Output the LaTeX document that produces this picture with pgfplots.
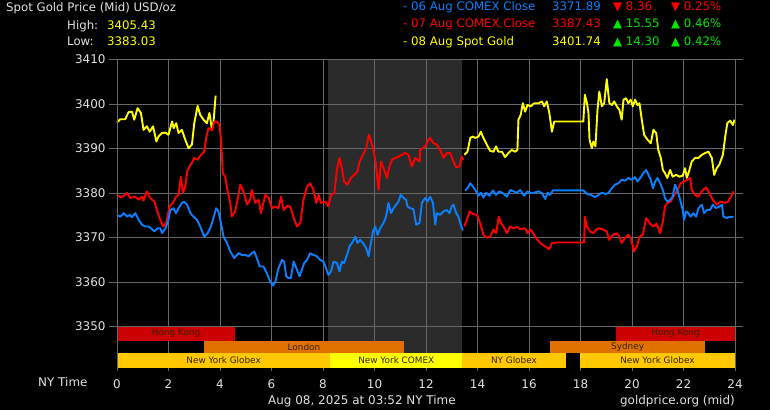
\documentclass[border=0pt]{standalone}
\usepackage{fontspec}
\setmainfont{DejaVu Sans}
\usepackage{pgfplots}
\pgfplotsset{compat=1.18}
\definecolor{gridgray}{RGB}{102,102,102}
\definecolor{comexshade}{RGB}{43,43,43}
\definecolor{txtgray}{RGB}{225,225,225}
\definecolor{gyellow}{RGB}{255,255,0}
\definecolor{gred}{RGB}{255,0,0}
\definecolor{gblue}{RGB}{10,128,255}
\definecolor{ggreen}{RGB}{0,230,0}
\definecolor{hkred}{RGB}{204,0,0}
\definecolor{lonorange}{RGB}{224,112,0}
\definecolor{globex}{RGB}{255,200,0}
\definecolor{comex}{RGB}{255,255,0}
\definecolor{bartxt}{RGB}{50,35,0}
\newcommand\hdr{\fontsize{11.8}{14}\selectfont}
\newcommand\tck{\fontsize{12}{14}\selectfont}
\newcommand\brf{\fontsize{8.9}{10}\selectfont}
\begin{document}
\begin{tikzpicture}
\begin{scope}[x=1bp,y=1bp]
\fill[black] (0,0) rectangle (770,410);
% header left
\node[anchor=base west, inner sep=0, text=txtgray, font=\hdr] at (6,398) {Spot Gold Price (Mid) USD/oz};
\node[anchor=base west, inner sep=0, text=txtgray, font=\hdr] at (67,380.7) {High:};
\node[anchor=base west, inner sep=0, text=gyellow, font=\hdr] at (107,380.7) {3405.43};
\node[anchor=base west, inner sep=0, text=txtgray, font=\hdr] at (67,364.3) {Low:};
\node[anchor=base west, inner sep=0, text=gyellow, font=\hdr] at (107,364.3) {3383.03};
% header right
\node[anchor=base west, inner sep=0, text=gblue, font=\hdr] at (403,399) {- 06 Aug COMEX Close};
\node[anchor=base east, inner sep=0, text=gblue, font=\hdr] at (601,399) {3371.89};
\node[anchor=base west, inner sep=0, text=gred, font=\hdr] at (613,399) {▼ 8.36};
\node[anchor=base west, inner sep=0, text=gred, font=\hdr] at (671,399) {▼ 0.25\%};
\node[anchor=base west, inner sep=0, text=gred, font=\hdr] at (403,382.3) {- 07 Aug COMEX Close};
\node[anchor=base east, inner sep=0, text=gred, font=\hdr] at (601,382.3) {3387.43};
\node[anchor=base west, inner sep=0, text=ggreen, font=\hdr] at (613,382.3) {▲ 15.55};
\node[anchor=base west, inner sep=0, text=ggreen, font=\hdr] at (671,382.3) {▲ 0.46\%};
\node[anchor=base west, inner sep=0, text=gyellow, font=\hdr] at (403,365) {- 08 Aug Spot Gold};
\node[anchor=base east, inner sep=0, text=gyellow, font=\hdr] at (601,365) {3401.74};
\node[anchor=base west, inner sep=0, text=ggreen, font=\hdr] at (613,365) {▲ 14.30};
\node[anchor=base west, inner sep=0, text=ggreen, font=\hdr] at (671,365) {▲ 0.42\%};
% footer
\node[anchor=base west, inner sep=0, text=txtgray, font=\tck] at (38,23.7) {NY Time};
\node[anchor=base west, inner sep=0, text=txtgray, font=\tck] at (268,6) {Aug 08, 2025 at 03:52 NY Time};
\node[anchor=base east, inner sep=0, text=txtgray, font=\tck] at (735,6) {goldprice.org (mid)};
\end{scope}
\begin{axis}[
  at={(117bp,42bp)}, anchor=south west, scale only axis,
  width=618bp, height=308.4bp,
  xmin=0, xmax=24, ymin=3340.7, ymax=3410,
  axis line style={draw=none},
  xtick={0,2,...,24}, ytick={3350,3360,...,3410},
  tick align=outside, major tick length=8bp,
  xtick style={draw=none}, ytick style={draw=gridgray, line width=0.8bp},
  ticklabel style={font=\tck, text=txtgray},
  /pgf/number format/assume math mode=true,
  /pgf/number format/1000 sep={},
  clip=false,
]
% shaded COMEX region
\fill[fill=comexshade] (axis cs:8.2,3340.7) rectangle (axis cs:13.4,3410);
% grid
\pgfplotsinvokeforeach{0,2,4,6,8,10,12,14,16,18,20,22,24}{
  \draw[gridgray, line width=0.8bp] (axis cs:#1,3340.0) -- (axis cs:#1,3410);
}
\pgfplotsinvokeforeach{3350,3360,3370,3380,3390,3400,3410}{
  \draw[gridgray, line width=0.8bp] (axis cs:0,#1) -- (axis cs:24,#1);
}
% yellow 08 Aug spot
\addplot[gyellow, line width=1.9bp, line join=round] coordinates {
(0.00,3395.9)(0.13,3396.6)(0.32,3396.6)(0.45,3398.2)(0.58,3398.3)(0.67,3396.5)(0.80,3399.1)(0.93,3398.0)(1.03,3394.2)(1.16,3395.0)(1.27,3393.8)(1.40,3395.0)(1.53,3391.6)(1.61,3392.7)(1.75,3393.5)(1.88,3393.6)(2.00,3393.1)(2.14,3396.1)(2.20,3394.6)(2.30,3395.7)(2.39,3393.5)(2.52,3394.2)(2.65,3392.0)(2.78,3390.1)(2.91,3390.9)(3.00,3395.7)(3.13,3399.6)(3.23,3397.6)(3.36,3396.5)(3.49,3395.7)(3.59,3398.0)(3.69,3394.2)(3.75,3396.1)(3.83,3401.9)
};
\addplot[gyellow, line width=1.9bp, line join=round] coordinates {
(13.49,3388.6)(13.61,3389.3)(13.72,3392.4)(13.82,3392.7)(13.91,3392.4)(14.04,3392.7)(14.13,3393.8)(14.23,3392.4)(14.36,3390.9)(14.49,3389.5)(14.62,3389.3)(14.72,3390.5)(14.81,3389.3)(14.95,3389.3)(15.07,3388.1)(15.20,3389.0)(15.33,3389.7)(15.46,3389.3)(15.55,3389.7)(15.59,3396.5)(15.68,3397.6)(15.76,3400.2)(15.85,3398.3)(15.94,3399.8)(16.07,3399.5)(16.20,3400.2)(16.37,3400.2)(16.50,3400.6)(16.59,3399.5)(16.69,3400.6)(16.79,3398.0)(16.89,3393.8)(16.98,3396.1)(18.11,3396.1)(18.17,3402.1)(18.25,3400.2)(18.31,3398.0)(18.35,3392.0)(18.44,3390.1)(18.50,3391.6)(18.58,3390.5)(18.66,3398.7)(18.73,3402.8)(18.83,3399.5)(18.92,3400.2)(19.02,3405.6)(19.12,3400.2)(19.22,3399.8)(19.31,3400.6)(19.41,3399.5)(19.51,3398.7)(19.60,3396.5)(19.67,3401.0)(19.77,3401.3)(19.86,3400.2)(19.95,3401.0)(20.03,3399.5)(20.12,3401.0)(20.21,3399.8)(20.29,3400.2)(20.38,3396.5)(20.47,3393.1)(20.60,3392.0)(20.73,3391.2)(20.83,3394.2)(20.94,3393.5)(21.02,3389.7)(21.12,3387.9)(21.20,3385.2)(21.28,3384.5)(21.37,3383.4)(21.48,3385.2)(21.58,3383.7)(21.71,3384.1)(21.84,3383.7)(21.97,3383.9)(22.06,3385.6)(22.13,3383.4)(22.23,3385.2)(22.32,3387.1)(22.45,3387.9)(22.58,3387.9)(22.71,3388.6)(22.84,3389.0)(22.97,3389.3)(23.10,3387.9)(23.19,3384.1)(23.29,3385.6)(23.39,3386.4)(23.53,3388.6)(23.62,3392.7)(23.70,3395.7)(23.81,3396.3)(23.92,3395.3)(23.98,3396.5)
};
% red 07 Aug COMEX
\addplot[gred, line width=1.9bp, line join=round] coordinates {
(0.00,3379.6)(0.13,3379.1)(0.26,3379.3)(0.39,3380.1)(0.52,3378.9)(0.71,3379.2)(0.84,3378.5)(0.97,3379.2)(1.03,3378.3)(1.16,3380.4)(1.29,3378.9)(1.45,3378.1)(1.55,3376.2)(1.68,3374.0)(1.79,3372.5)(1.91,3373.3)(2.04,3377.0)(2.17,3377.8)(2.30,3379.2)(2.39,3379.6)(2.48,3383.7)(2.56,3380.0)(2.65,3381.5)(2.74,3385.2)(2.87,3386.4)(3.00,3387.9)(3.13,3387.5)(3.26,3388.6)(3.39,3389.3)(3.47,3392.7)(3.56,3394.6)(3.69,3394.2)(3.78,3396.1)(3.88,3396.1)(3.98,3395.3)(4.05,3391.2)(4.11,3384.5)(4.20,3383.7)(4.29,3380.7)(4.40,3377.8)(4.46,3374.7)(4.59,3375.9)(4.68,3378.5)(4.79,3381.9)(4.91,3380.4)(5.05,3377.4)(5.17,3378.5)(5.24,3380.7)(5.37,3377.8)(5.50,3378.5)(5.59,3375.5)(5.76,3379.6)(5.89,3378.9)(6.02,3376.6)(6.15,3377.0)(6.27,3376.6)(6.37,3379.2)(6.47,3376.2)(6.60,3377.1)(6.73,3377.0)(6.86,3374.4)(6.99,3372.5)(7.12,3373.3)(7.24,3378.5)(7.38,3381.5)(7.50,3382.2)(7.63,3380.7)(7.74,3377.8)(7.83,3379.6)(7.92,3377.8)(8.09,3378.1)(8.21,3377.0)(8.31,3379.6)(8.44,3380.0)(8.54,3385.2)(8.64,3387.9)(8.73,3385.6)(8.82,3382.6)(8.95,3381.9)(9.08,3383.4)(9.21,3384.1)(9.34,3384.9)(9.42,3387.1)(9.55,3388.6)(9.68,3390.1)(9.78,3393.1)(9.87,3391.6)(9.96,3389.7)(10.05,3386.7)(10.16,3380.7)(10.25,3387.1)(10.38,3385.2)(10.48,3383.4)(10.58,3386.0)(10.68,3387.5)(10.80,3387.9)(10.93,3388.2)(11.06,3388.6)(11.19,3389.0)(11.32,3388.6)(11.45,3386.0)(11.58,3387.9)(11.75,3387.1)(11.77,3389.7)(11.97,3390.5)(12.10,3392.0)(12.16,3392.4)(12.29,3391.2)(12.42,3390.9)(12.55,3389.7)(12.68,3387.9)(12.81,3389.0)(12.94,3389.0)(13.04,3387.5)(13.17,3385.8)(13.30,3386.0)(13.39,3388.2)(13.45,3387.5)
};
\addplot[gred, line width=1.9bp, line join=round] coordinates {
(13.49,3372.5)(13.59,3374.0)(13.69,3375.9)(13.82,3375.3)(13.98,3375.1)(14.10,3373.3)(14.23,3370.6)(14.36,3370.0)(14.49,3370.2)(14.62,3371.8)(14.72,3371.0)(14.83,3374.7)(14.91,3373.3)(15.01,3372.5)(15.14,3371.0)(15.27,3372.5)(15.40,3372.1)(15.53,3372.4)(15.66,3371.9)(15.85,3372.1)(15.94,3371.0)(16.07,3371.8)(16.24,3370.2)(16.43,3368.8)(16.63,3368.0)(16.79,3367.4)(16.89,3368.8)(17.08,3368.9)(18.14,3368.9)(18.17,3374.7)(18.25,3372.5)(18.37,3371.4)(18.50,3371.0)(18.61,3371.8)(18.73,3372.1)(18.87,3371.8)(19.02,3371.4)(19.12,3369.5)(19.25,3370.6)(19.41,3371.0)(19.51,3370.2)(19.60,3368.8)(19.73,3369.9)(19.86,3370.6)(19.95,3369.9)(20.08,3366.9)(20.19,3368.0)(20.29,3370.2)(20.42,3370.6)(20.55,3374.4)(20.68,3373.3)(20.81,3372.5)(20.96,3373.1)(21.09,3371.0)(21.20,3373.6)(21.28,3377.0)(21.37,3377.8)(21.51,3378.1)(21.64,3379.6)(21.76,3380.7)(21.89,3382.2)(22.02,3382.6)(22.15,3383.0)(22.26,3383.4)(22.32,3380.7)(22.45,3379.6)(22.58,3379.2)(22.71,3380.4)(22.88,3381.3)(23.00,3380.0)(23.14,3378.5)(23.29,3377.4)(23.45,3378.1)(23.61,3377.8)(23.74,3378.1)(23.84,3379.2)(23.94,3380.4)
};
% blue 06 Aug COMEX
\addplot[gblue, line width=1.9bp, line join=round] coordinates {
(0.00,3375.1)(0.13,3374.7)(0.26,3375.5)(0.39,3374.7)(0.49,3375.1)(0.58,3374.6)(0.71,3375.5)(0.84,3374.0)(0.97,3372.9)(1.10,3372.5)(1.23,3372.5)(1.36,3371.9)(1.45,3371.4)(1.58,3372.1)(1.68,3372.1)(1.75,3371.0)(1.88,3372.1)(2.00,3374.0)(2.07,3376.2)(2.20,3376.6)(2.29,3375.5)(2.39,3376.6)(2.52,3377.8)(2.61,3378.1)(2.72,3377.4)(2.85,3375.5)(2.97,3374.7)(3.11,3374.0)(3.23,3372.5)(3.39,3370.2)(3.52,3371.0)(3.65,3372.5)(3.78,3375.1)(3.85,3376.6)(3.94,3375.9)(4.01,3374.0)(4.14,3370.2)(4.27,3368.8)(4.40,3366.9)(4.55,3365.4)(4.72,3366.5)(4.85,3366.1)(4.98,3366.1)(5.11,3365.8)(5.24,3366.5)(5.33,3366.9)(5.43,3365.4)(5.54,3363.5)(5.69,3363.5)(5.82,3362.0)(5.95,3360.1)(6.06,3359.2)(6.15,3360.1)(6.27,3363.1)(6.41,3365.0)(6.49,3364.6)(6.57,3361.3)(6.66,3360.9)(6.75,3360.9)(6.86,3364.6)(6.99,3362.8)(7.09,3361.3)(7.18,3362.8)(7.27,3364.3)(7.38,3365.0)(7.50,3366.5)(7.63,3366.1)(7.76,3365.8)(7.89,3365.0)(8.02,3364.6)(8.12,3363.1)(8.21,3361.6)(8.31,3362.4)(8.41,3364.6)(8.54,3364.3)(8.64,3362.4)(8.73,3364.6)(8.82,3364.3)(8.93,3366.1)(9.03,3368.0)(9.16,3369.1)(9.25,3370.2)(9.34,3368.8)(9.44,3369.5)(9.55,3368.8)(9.68,3367.6)(9.77,3365.8)(9.86,3368.8)(9.94,3371.4)(10.03,3372.5)(10.12,3370.6)(10.22,3372.1)(10.35,3373.3)(10.45,3374.7)(10.54,3377.8)(10.64,3375.5)(10.74,3376.6)(10.84,3377.4)(10.93,3378.1)(11.02,3379.6)(11.13,3378.9)(11.23,3378.5)(11.28,3377.0)(11.39,3376.6)(11.51,3376.4)(11.62,3372.9)(11.75,3373.3)(11.84,3377.8)(11.97,3378.9)(12.06,3378.1)(12.16,3379.2)(12.27,3377.8)(12.36,3372.9)(12.42,3375.5)(12.55,3375.1)(12.68,3375.9)(12.81,3376.2)(12.91,3375.5)(13.00,3377.0)(13.07,3377.4)(13.17,3375.5)(13.26,3374.7)(13.35,3372.9)(13.43,3371.6)
};
\addplot[gblue, line width=1.9bp, line join=round] coordinates {
(13.52,3380.6)(13.61,3381.1)(13.72,3382.2)(13.82,3381.5)(13.95,3380.4)(14.04,3379.4)(14.13,3380.1)(14.23,3379.0)(14.34,3380.1)(14.46,3379.4)(14.60,3380.6)(14.72,3379.6)(14.85,3380.4)(14.98,3380.0)(15.14,3379.2)(15.27,3380.7)(15.40,3380.4)(15.53,3380.1)(15.66,3380.7)(15.81,3379.4)(15.94,3380.4)(16.07,3380.0)(16.20,3380.1)(16.37,3380.4)(16.50,3380.0)(16.63,3378.7)(16.72,3380.1)(16.82,3379.6)(16.93,3380.6)(18.11,3380.6)(18.25,3379.8)(18.40,3379.6)(18.57,3379.1)(18.70,3379.6)(18.83,3380.1)(18.96,3379.8)(19.08,3380.0)(19.22,3381.1)(19.34,3381.9)(19.47,3382.2)(19.60,3383.0)(19.73,3382.8)(19.86,3383.4)(19.99,3383.0)(20.12,3383.6)(20.21,3382.6)(20.32,3383.4)(20.44,3384.5)(20.55,3385.2)(20.64,3384.1)(20.73,3383.0)(20.81,3381.1)(20.90,3382.6)(20.99,3383.4)(21.09,3382.2)(21.20,3380.7)(21.28,3378.9)(21.37,3378.1)(21.48,3378.5)(21.58,3379.2)(21.67,3381.9)(21.76,3380.7)(21.87,3378.5)(21.97,3376.2)(22.02,3374.0)(22.10,3375.9)(22.19,3375.5)(22.28,3374.7)(22.38,3375.5)(22.49,3374.7)(22.58,3376.6)(22.71,3377.4)(22.80,3375.5)(22.90,3376.2)(23.03,3376.2)(23.14,3377.4)(23.27,3376.6)(23.39,3377.0)(23.49,3377.4)(23.55,3374.7)(23.68,3374.4)(23.81,3374.7)(23.94,3374.6)
};
% session bars
\fill[hkred] (axis cs:0,3346.85) rectangle (axis cs:4.59,3350);
\fill[hkred] (axis cs:19.38,3346.85) rectangle (axis cs:24,3350);
\fill[lonorange] (axis cs:3.39,3344.0) rectangle (axis cs:11.13,3346.85);
\fill[lonorange] (axis cs:16.82,3344.0) rectangle (axis cs:22.84,3346.85);
\fill[globex] (axis cs:0,3340.7) rectangle (axis cs:8.28,3344.0);
\fill[comex] (axis cs:8.28,3340.7) rectangle (axis cs:13.41,3344.0);
\fill[globex] (axis cs:13.41,3340.7) rectangle (axis cs:17.42,3344.0);
\fill[globex] (axis cs:17.98,3340.7) rectangle (axis cs:24,3344.0);
\node[text=bartxt, font=\brf, inner sep=0] at (axis cs:2.295,3348.42) {Hong Kong};
\node[text=bartxt, font=\brf, inner sep=0] at (axis cs:21.69,3348.42) {Hong Kong};
\node[text=bartxt, font=\brf, inner sep=0] at (axis cs:7.26,3345.42) {London};
\node[text=bartxt, font=\brf, inner sep=0] at (axis cs:19.83,3345.42) {Sydney};
\node[text=bartxt, font=\brf, inner sep=0] at (axis cs:4.14,3342.35) {New York Globex};
\node[text=bartxt, font=\brf, inner sep=0] at (axis cs:10.845,3342.35) {New York COMEX};
\node[text=bartxt, font=\brf, inner sep=0] at (axis cs:15.415,3342.35) {NY Globex};
\node[text=bartxt, font=\brf, inner sep=0] at (axis cs:20.99,3342.35) {New York Globex};
% frame
\draw[gridgray, line width=0.8bp] (axis cs:0,3340.0) -- (axis cs:0,3410) -- (axis cs:24,3410) -- (axis cs:24,3340.0);
\end{axis}
\pgfresetboundingbox
\useasboundingbox (0,0) rectangle (770bp,410bp);
\end{tikzpicture}
\end{document}
